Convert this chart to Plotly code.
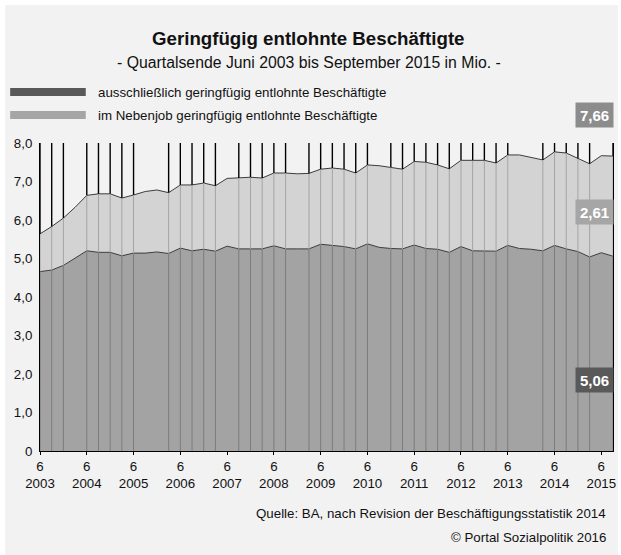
import plotly.graph_objects as go

# ---------------- data (Mio., quarter ends Jun 2003 .. Sep 2015) ----------------
total_gering = [5.64, 5.83, 6.05, 6.33, 6.64, 6.68, 6.68, 6.57, 6.65, 6.74,
                6.78, 6.71, 6.91, 6.91, 6.96, 6.89, 7.08, 7.09, 7.11, 7.09,
                7.22, 7.22, 7.20, 7.21, 7.32, 7.35, 7.32, 7.22, 7.43, 7.41,
                7.37, 7.32, 7.52, 7.50, 7.43, 7.33, 7.55, 7.55, 7.55, 7.48,
                7.69, 7.69, 7.63, 7.56, 7.77, 7.74, 7.60, 7.46, 7.67, 7.66]
ausschl_gering = [4.66, 4.70, 4.82, 5.01, 5.20, 5.16, 5.16, 5.07, 5.14, 5.14,
                  5.17, 5.13, 5.27, 5.20, 5.24, 5.19, 5.32, 5.25, 5.25, 5.25,
                  5.33, 5.25, 5.25, 5.25, 5.37, 5.33, 5.31, 5.25, 5.38, 5.29,
                  5.26, 5.25, 5.35, 5.26, 5.24, 5.16, 5.31, 5.20, 5.20, 5.19,
                  5.34, 5.26, 5.24, 5.20, 5.34, 5.25, 5.18, 5.04, 5.15, 5.06]
year_labels = ["2003", "2004", "2005", "2006", "2007", "2008", "2009",
               "2010", "2011", "2012", "2013", "2014", "2015"]
month_label = "6"
ytick_vals = [0, 1, 2, 3, 4, 5, 6, 7, 8]
ytick_text = ["0", "1,0", "2,0", "3,0", "4,0", "5,0", "6,0", "7,0", "8,0"]
no_dropline = [3, 9, 10, 16, 22, 29, 41, 42, 48]
label_total = "7,66"
label_neben = "2,61"
label_ausschl = "5,06"
series_names = ["ausschließlich geringfügig entlohnte Beschäftigte",
                "im Nebenjob geringfügig entlohnte Beschäftigte"]

# ---------------- figure ----------------
W, H = 621, 555
ML, MR, MT, MB = 40, 5, 143, 104
PW, PH = W - ML - MR, H - MT - MB
FONT = "Arial, Liberation Sans, sans-serif"
FS = 13.3

x = list(range(len(total_gering)))
ymax = ytick_vals[-1]

def px(v):
    return (v - ML) / PW

def py(v):
    return (H - MB - v) / PH

fig = go.Figure()

fig.add_trace(go.Scatter(x=x, y=ausschl_gering, mode="lines", fill="tozeroy",
                         fillcolor="#a3a3a3", line=dict(color="#3c3c3c", width=1),
                         hoverinfo="skip", showlegend=False))
fig.add_trace(go.Scatter(x=x, y=total_gering, mode="lines", fill="tonexty",
                         fillcolor="#d3d3d3", line=dict(color="#3c3c3c", width=1),
                         hoverinfo="skip", showlegend=False))

# drop lines
lx1, ly1, lx2, ly2, lx3, ly3 = [], [], [], [], [], []
for i in x:
    if i in no_dropline:
        continue
    lx1 += [i, i, None]; ly1 += [0, ausschl_gering[i], None]
    lx2 += [i, i, None]; ly2 += [ausschl_gering[i], total_gering[i], None]
    lx3 += [i, i, None]; ly3 += [total_gering[i], ymax, None]
fig.add_trace(go.Scatter(x=lx1, y=ly1, mode="lines", line=dict(color="#7c7c7c", width=1),
                         hoverinfo="skip", showlegend=False))
fig.add_trace(go.Scatter(x=lx2, y=ly2, mode="lines", line=dict(color="#a4a4a4", width=1),
                         hoverinfo="skip", showlegend=False))
fig.add_trace(go.Scatter(x=lx3, y=ly3, mode="lines", line=dict(color="#000000", width=1.4),
                         hoverinfo="skip", showlegend=False))

shapes = [
    dict(type="rect", xref="paper", yref="paper", x0=px(5), x1=px(W), y0=py(H), y1=py(5),
         fillcolor="#f2f2f2", line=dict(width=0), layer="below"),
    dict(type="rect", xref="paper", yref="paper", x0=px(10), x1=px(86), y0=py(96), y1=py(88),
         fillcolor="#595959", line=dict(width=0)),
    dict(type="rect", xref="paper", yref="paper", x0=px(10), x1=px(86), y0=py(119), y1=py(111),
         fillcolor="#a6a6a6", line=dict(width=0)),
]

ann = [
    dict(text="<b>Geringfügig entlohnte Beschäftigte</b>", x=px(310), y=py(38),
         font=dict(size=18.7, color="#111111")),
    dict(text="- Quartalsende Juni 2003 bis September 2015 in Mio. -", x=px(310), y=py(63),
         font=dict(size=15.8, color="#111111")),
    dict(text=series_names[0], x=px(96), y=py(92), xanchor="left",
         font=dict(size=FS, color="#111111")),
    dict(text=series_names[1], x=px(96), y=py(115), xanchor="left",
         font=dict(size=FS, color="#111111")),
    dict(text="Quelle: BA, nach Revision der Beschäftigungsstatistik 2014", x=px(611), y=py(513),
         xanchor="right", font=dict(size=FS, color="#111111")),
    dict(text="© Portal Sozialpolitik 2016", x=px(611), y=py(537),
         xanchor="right", font=dict(size=FS, color="#111111")),
]
for txt, yc, col in [(label_total, 115, "#8c8c8c"), (label_neben, 212, "#a6a6a6"),
                     (label_ausschl, 380, "#595959")]:
    ann.append(dict(text="<b>" + txt + "</b>", x=px(617), y=py(yc), xanchor="right",
                    width=37, height=24, bgcolor=col, borderpad=0,
                    font=dict(size=15, color="#ffffff")))
for a in ann:
    a.update(xref="paper", yref="paper", showarrow=False)
    a.setdefault("xanchor", "center")
    a.setdefault("yanchor", "middle")
    a["font"]["family"] = FONT

tick_pos = x[::4]
fig.update_layout(
    width=W, height=H, autosize=False,
    margin=dict(l=ML, r=MR, t=MT, b=MB, pad=0),
    paper_bgcolor="#ffffff", plot_bgcolor="rgba(0,0,0,0)",
    font=dict(family=FONT, size=FS, color="#111111"),
    shapes=shapes, annotations=ann, showlegend=False,
    xaxis=dict(range=[0, len(x) - 1], tickvals=tick_pos,
               ticktext=[month_label + "<br>" + yl for yl in year_labels],
               showgrid=False, zeroline=False, showline=True, linecolor="#000000",
               linewidth=1, ticks="outside", ticklen=3, tickcolor="#000000",
               tickfont=dict(size=FS, color="#111111")),
    yaxis=dict(range=[0, ymax], tickvals=ytick_vals, ticktext=ytick_text,
               showgrid=False, zeroline=False, showline=True, mirror=True,
               linecolor="#000000", linewidth=1, ticks="", ticklabelstandoff=4,
               tickfont=dict(size=FS, color="#111111")),
)

fig.write_html("out.html", config={"displayModeBar": False},
               post_script="document.body.style.margin='0px';")
